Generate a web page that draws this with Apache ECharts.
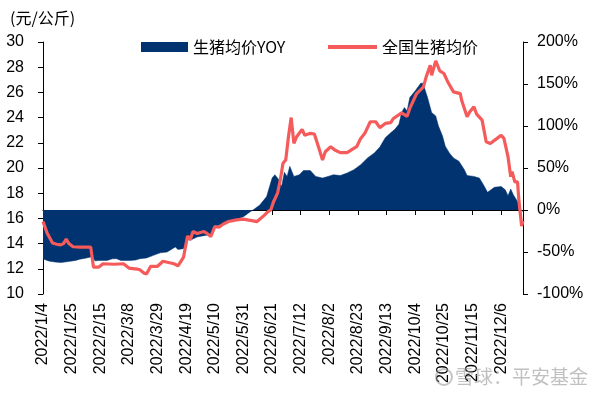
<!DOCTYPE html>
<html><head><meta charset="utf-8">
<script src="https://cdn.jsdelivr.net/npm/echarts@6/dist/echarts.min.js"></script>
<style>html,body{margin:0;padding:0;background:#fff}#c{width:594px;height:394px}</style>
</head><body><div id="c"></div>
<script>
const unitLabel = '(元/公斤)';
const seriesNames = ['生猪均价YOY', '全国生猪均价'];
const leftTicks = { min: 10, max: 30, interval: 2 };
const rightTicks = { min: -100, max: 200, interval: 50 };

const priceDates = ['2022/1/4','2022/1/7','2022/1/11','2022/1/14','2022/1/17','2022/1/19','2022/1/21','2022/1/23','2022/1/26','2022/1/31',
'2022/2/8','2022/2/10','2022/2/14','2022/2/17','2022/2/25','2022/3/4','2022/3/8','2022/3/14','2022/3/16','2022/3/19',
'2022/3/21','2022/3/24','2022/3/29','2022/4/2','2022/4/6','2022/4/10','2022/4/13','2022/4/17','2022/4/20','2022/4/22',
'2022/4/24','2022/4/27','2022/5/2','2022/5/4','2022/5/7','2022/5/10','2022/5/13','2022/5/16','2022/5/20','2022/5/26',
'2022/5/31','2022/6/3','2022/6/10','2022/6/15','2022/6/18','2022/6/20','2022/6/22','2022/6/25','2022/6/27','2022/6/29',
'2022/7/1','2022/7/3','2022/7/5','2022/7/7','2022/7/9','2022/7/13','2022/7/15','2022/7/19','2022/7/22','2022/7/25',
'2022/7/28','2022/7/30','2022/8/3','2022/8/6','2022/8/10','2022/8/15','2022/8/19','2022/8/22','2022/8/25','2022/8/28',
'2022/9/1','2022/9/5','2022/9/8','2022/9/12','2022/9/16','2022/9/18','2022/9/24','2022/9/28','2022/9/30','2022/10/5',
'2022/10/10','2022/10/12','2022/10/15','2022/10/16','2022/10/19','2022/10/22','2022/10/25','2022/10/28','2022/11/1','2022/11/6',
'2022/11/7','2022/11/11','2022/11/13','2022/11/16','2022/11/18','2022/11/22','2022/11/25','2022/11/28','2022/12/3','2022/12/6',
'2022/12/8','2022/12/11','2022/12/13','2022/12/14','2022/12/16','2022/12/18','2022/12/19','2022/12/20','2022/12/21','2022/12/22'];
const priceValues = [15.75,14.85,14.05,13.95,13.9,14.0,14.35,14.0,13.75,13.72,
13.72,12.14,12.14,12.4,12.36,12.4,12.06,11.98,11.92,11.66,
11.6,12.2,12.2,12.6,12.5,12.4,12.24,12.9,14.6,14.3,
14.96,14.8,14.96,14.83,14.56,15.35,15.3,15.54,15.75,15.88,
15.94,15.88,15.75,16.22,16.54,16.67,17.3,18.0,19.05,20.37,
20.63,22.48,24.0,21.95,22.48,23.06,22.6,22.75,22.7,21.69,
20.63,21.29,21.69,21.43,21.22,21.22,21.5,21.69,22.35,22.75,
23.67,23.67,23.2,23.54,23.6,23.93,24.38,24.1,24.73,25.91,
26.44,27.23,28.15,27.36,28.5,27.7,27.5,26.8,26.04,25.9,
25.38,24.06,24.46,24.85,24.28,23.8,22.08,21.95,22.35,22.6,
22.35,20.9,19.31,19.71,18.9,18.9,17.4,16.41,15.4,15.8];

const yoyDates = ['2022/1/4','2022/1/7','2022/1/9','2022/1/13','2022/1/17','2022/1/20','2022/1/24','2022/1/28','2022/1/31','2022/2/4',
'2022/2/8','2022/2/10','2022/2/11','2022/2/15','2022/2/20','2022/2/24','2022/2/27','2022/3/2','2022/3/9','2022/3/13',
'2022/3/16','2022/3/21','2022/3/26','2022/3/31','2022/4/5','2022/4/9','2022/4/11','2022/4/13','2022/4/17','2022/4/20',
'2022/4/22','2022/4/27','2022/5/4','2022/5/8','2022/5/10','2022/5/16','2022/5/24','2022/5/31','2022/6/5','2022/6/7',
'2022/6/12','2022/6/17','2022/6/21','2022/6/23','2022/6/26','2022/6/28','2022/6/30','2022/7/2','2022/7/4','2022/7/7',
'2022/7/11','2022/7/14','2022/7/19','2022/7/23','2022/7/28','2022/8/1','2022/8/5','2022/8/10','2022/8/15','2022/8/20',
'2022/8/25','2022/8/30','2022/9/4','2022/9/8','2022/9/12','2022/9/16','2022/9/19','2022/9/22','2022/9/24','2022/9/26',
'2022/9/28','2022/9/30','2022/10/4','2022/10/8','2022/10/10','2022/10/11','2022/10/13','2022/10/15','2022/10/16','2022/10/19',
'2022/10/21','2022/10/24','2022/10/26','2022/10/29','2022/11/1','2022/11/5','2022/11/9','2022/11/11','2022/11/16','2022/11/20',
'2022/11/23','2022/11/26','2022/12/1','2022/12/6','2022/12/9','2022/12/11','2022/12/13','2022/12/15','2022/12/18','2022/12/20',
'2022/12/22'];
const yoyValues = [-58,-60,-61,-62,-62.5,-62,-61,-60,-58.5,-57.5,
-56,-57,-60.5,-60,-60,-58,-58,-60,-60,-59.5,
-58,-57,-54,-51,-50,-46,-44,-47,-46,-32,
-36,-32,-30,-29,-20,-16,-12,-8,-2,0,
6,16,38,42,36,28,45,40,52,40,
42,47,47,40,38,40,42,41,44,48,
54,62,68,75,86,92,96,102,116,122,
118,134,142,151,151,144,134,122,116,112,
100,88,76,68,62,58,48,41,40,38,
30,21,27,28,24,17,25,18,10,1,
-2];

// daily category axis from 2022/1/4 to 2022/12/22
const categories = [];
(function(){
  const s = new Date(2022,0,4), e = new Date(2022,11,22);
  for (let d = new Date(s); d <= e; d.setDate(d.getDate()+1)) {
    categories.push(d.getFullYear()+'/'+(d.getMonth()+1)+'/'+d.getDate());
  }
})();

const priceData = priceDates.map((d,i)=>[d, priceValues[i]]);
const yoyData = yoyDates.map((d,i)=>[d, yoyValues[i]]);

const chart = echarts.init(document.getElementById('c'));
const font = 'Liberation Sans, Arial, sans-serif';
const blue = '#00336F', red = '#F55B5B';
chart.setOption({
  animation: false,
  backgroundColor: '#fff',
  title: { text: unitLabel, left: 5, top: 5, textStyle: { fontSize: 16, fontWeight: 'normal', color: '#000', fontFamily: 'Noto Sans CJK SC' } },
  legend: [
    { top: 34, left: 136, itemWidth: 47, itemHeight: 10,
      textStyle: { fontSize: 16, color: '#000', fontFamily: 'Noto Sans CJK SC' },
      data: [{ name: seriesNames[0], icon: 'rect' }] },
    { top: 34, left: 323, itemWidth: 49, itemHeight: 4,
      textStyle: { fontSize: 16, color: '#000', fontFamily: 'Noto Sans CJK SC' },
      data: [{ name: seriesNames[1], icon: 'rect', itemStyle: { color: red } }] }
  ],
  grid: { left: 43, right: 71, top: 42, bottom: 100, containLabel: false, outerBoundsMode: 'none' },
  xAxis: {
    type: 'category', data: categories, boundaryGap: false,
    axisLine: { lineStyle: { color: '#000', width: 1 } },
    axisTick: { interval: 20, length: 5, lineStyle: { color: '#000' } },
    axisLabel: { interval: 20, rotate: 90, fontSize: 16, color: '#000', fontFamily: font, margin: 9 }
  },
  yAxis: [
    { type: 'value', min: leftTicks.min, max: leftTicks.max, interval: leftTicks.interval,
      axisLine: { show: true, lineStyle: { color: '#000' } },
      axisTick: { show: true, length: 5, lineStyle: { color: '#000' } },
      splitLine: { show: false },
      axisLabel: { fontSize: 16, color: '#000', fontFamily: font, margin: 19 } },
    { type: 'value', min: rightTicks.min, max: rightTicks.max, interval: rightTicks.interval, position: 'right',
      axisLine: { show: true, lineStyle: { color: '#000' } },
      axisTick: { show: true, length: 5, lineStyle: { color: '#000' } },
      splitLine: { show: false },
      axisLabel: { fontSize: 16, color: '#000', fontFamily: font, margin: 14, formatter: '{value}%' } }
  ],
  series: [
    { name: seriesNames[0], type: 'line', yAxisIndex: 1, data: yoyData, symbol: 'none',
      lineStyle: { width: 0.5, color: blue }, itemStyle: { color: blue },
      areaStyle: { color: blue, opacity: 1 }, z: 1 },
    { name: seriesNames[1], type: 'line', yAxisIndex: 0, data: priceData, symbol: 'none', showSymbol: false,
      lineStyle: { width: 3.2, color: red }, itemStyle: { color: red }, z: 3 }
  ],
  graphic: [
    { type: 'circle', shape: { cx: 444, cy: 377, r: 8 }, style: { fill: 'none', stroke: 'rgba(150,150,150,0.55)', lineWidth: 2 }, z: 100 },
    { type: 'text', left: 455, top: 367, style: { text: '雪球：平安基金', fontSize: 19, fill: 'rgba(150,150,150,0.6)', fontFamily: 'Noto Sans CJK SC' }, z: 100 }
  ]
});
</script></body></html>
